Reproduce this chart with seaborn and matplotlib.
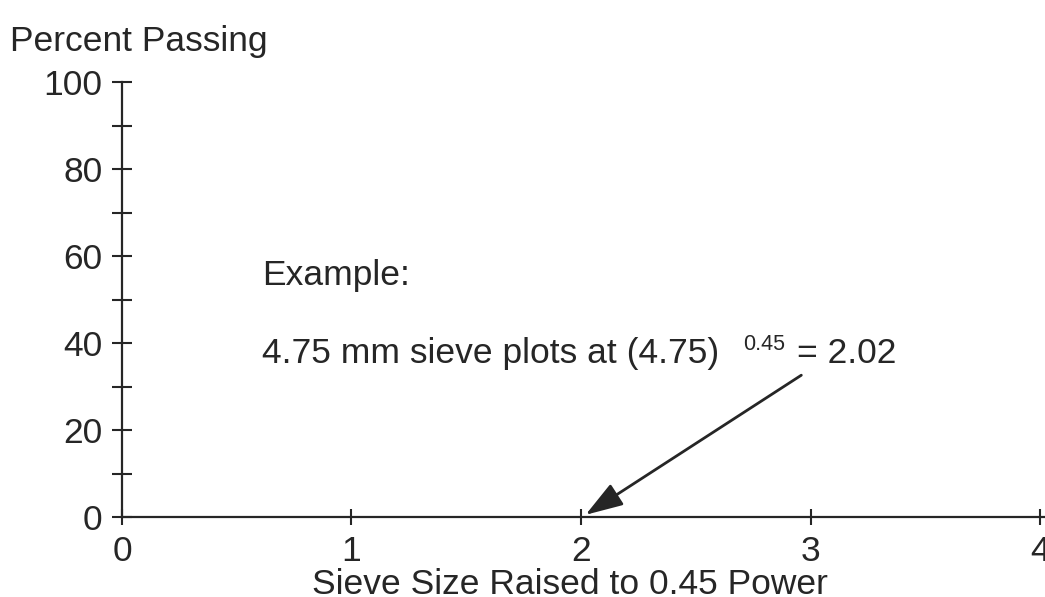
import matplotlib
matplotlib.use("Agg")
import matplotlib.pyplot as plt
import seaborn as sns

# axis ticks
x_ticks = [0, 1, 2, 3, 4]
y_major = [0, 20, 40, 60, 80, 100]
y_minor = [10, 30, 50, 70, 90]

# example values
sieve_mm = 4.75
exponent = 0.45
plotted_at = 2.02

sns.set_theme(style="ticks")
plt.rcParams['font.family'] = ['Liberation Sans', 'DejaVu Sans']

ink = "#262626"
big = 25.5

fig = plt.figure(figsize=(10.45, 5.97), dpi=100)
ax = fig.add_axes([0.1167, 0.134, 0.9005, 0.7286])
ax.set_xlim(0, 4.1)
ax.set_ylim(0, 100)
ax.set_facecolor("white")

ax.set_xticks(x_ticks)
ax.set_yticks(y_major)
ax.set_yticks(y_minor, minor=True)
ax.tick_params(axis="y", which="both", direction="inout", length=14, width=1.5,
               pad=7, labelsize=big, colors=ink)
ax.tick_params(axis="x", which="both", direction="inout", length=12, width=1.5,
               pad=7, labelsize=big, colors=ink)
for s in ["left", "bottom"]:
    ax.spines[s].set_linewidth(1.6)
    ax.spines[s].set_color(ink)
sns.despine(ax=ax)

# annotation text
ax.text(0.61, 55.6, "Example:", fontsize=big, color=ink, va="center", ha="left")
ax.text(0.61, 37.5, f"{sieve_mm} mm sieve plots at ({sieve_mm})", fontsize=big,
        color=ink, va="center", ha="left")
ax.text(2.706, 39.6, f"{exponent}", fontsize=15.5, color=ink, va="center", ha="left")
ax.text(2.94, 37.5, f"= {plotted_at}", fontsize=big, color=ink, va="center", ha="left")

ax.annotate("", xy=(plotted_at, 0.5), xytext=(2.96, 32.6),
            arrowprops=dict(arrowstyle="-|>,head_length=1.15,head_width=0.38",
                            mutation_scale=20, lw=2, color=ink,
                            shrinkA=0, shrinkB=0))

fig.text(10 / 1045, 1 - 42 / 597, "Percent Passing", fontsize=big, color=ink,
         va="center", ha="left")
# label sits at the bottom edge, like the scanned original
fig.text(570 / 1045, 1 - 594 / 597, f"Sieve Size Raised to {exponent} Power",
         fontsize=big, color=ink, va="baseline", ha="center")

fig.savefig("out.png", dpi=100, facecolor="white")
